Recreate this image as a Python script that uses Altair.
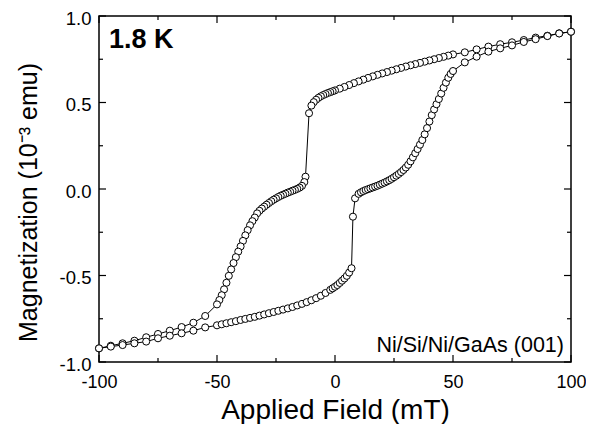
import altair as alt
import pandas as pd

# Descending branch (field swept from +100 mT to -100 mT)
desc_H = [100, 95, 90, 85, 80, 75, 70, 65, 60, 55, 50,
          48, 46, 44, 42, 40, 38, 36, 34, 32, 30, 28, 26, 24, 22, 20,
          18, 16, 14, 12, 10, 8, 6, 4, 2, 0,
          -1, -2, -3, -4, -5, -6, -7, -8, -9, -10, -11,
          -12.5, -13, -14, -15, -16, -17, -18, -19, -20, -21, -22, -23, -24, -25,
          -26, -27, -28, -29, -30, -31, -32, -33, -34, -35, -36, -37, -38, -39, -40,
          -41, -42, -43, -44, -45, -46, -47, -48, -49, -50,
          -55, -60, -65, -70, -75, -80, -85, -90, -95, -100]
desc_M = [0.909, 0.900, 0.886, 0.875, 0.861, 0.848, 0.837, 0.823, 0.807, 0.790, 0.778,
          0.771, 0.764, 0.757, 0.750, 0.743, 0.736, 0.729, 0.722, 0.715, 0.708, 0.700, 0.692, 0.684, 0.676, 0.668,
          0.660, 0.651, 0.642, 0.632, 0.622, 0.612, 0.601, 0.590, 0.580, 0.570,
          0.565, 0.560, 0.555, 0.549, 0.543, 0.536, 0.527, 0.516, 0.502, 0.482, 0.438,
          0.071, 0.040, 0.018, 0.008, 0.001, -0.005, -0.010, -0.016, -0.021, -0.027, -0.033, -0.039, -0.046, -0.054,
          -0.062, -0.071, -0.081, -0.091, -0.102, -0.113, -0.126, -0.141, -0.165, -0.186, -0.210, -0.238, -0.268, -0.300, -0.332,
          -0.362, -0.394, -0.428, -0.465, -0.502, -0.542, -0.580, -0.614, -0.642, -0.667,
          -0.734, -0.773, -0.798, -0.819, -0.838, -0.857, -0.877, -0.892, -0.906, -0.921]

# Ascending branch (field swept from -100 mT to +100 mT)
asc_H = [-100, -95, -90, -85, -80, -75, -70, -65, -60, -55, -50,
         -48, -46, -44, -42, -40, -38, -36, -34, -32, -30, -28, -26, -24, -22, -20,
         -18, -16, -14, -12, -10, -8, -6, -4, -2,
         -1, 0, 1, 2, 3, 4, 5, 6, 7,
         7.6, 8.5, 10, 11, 12, 13, 14, 15, 16, 17, 18, 19, 20, 21, 22, 23, 24, 25,
         26, 27, 28, 29, 30, 31, 32, 33, 34, 35, 36, 37, 38, 39, 40,
         41, 42, 43, 44, 45, 46, 47, 48, 49, 50,
         55, 60, 65, 70, 75, 80, 85, 90, 95, 100]
asc_M = [-0.921, -0.911, -0.902, -0.892, -0.882, -0.863, -0.848, -0.834, -0.819, -0.800, -0.788,
         -0.782, -0.776, -0.770, -0.764, -0.757, -0.751, -0.745, -0.739, -0.732, -0.725, -0.718, -0.711, -0.704, -0.697, -0.690,
         -0.682, -0.673, -0.664, -0.654, -0.643, -0.631, -0.617, -0.601, -0.583,
         -0.574, -0.565, -0.555, -0.543, -0.530, -0.517, -0.502, -0.483, -0.458,
         -0.160, -0.054, -0.028, -0.019, -0.012, -0.006, -0.001, 0.004, 0.009, 0.014, 0.019, 0.025, 0.031, 0.037, 0.044, 0.051, 0.059, 0.068,
         0.077, 0.087, 0.098, 0.110, 0.124, 0.140, 0.160, 0.183, 0.207, 0.231, 0.256, 0.283, 0.316, 0.352, 0.390,
         0.427, 0.460, 0.490, 0.520, 0.552, 0.585, 0.615, 0.643, 0.665, 0.682,
         0.732, 0.765, 0.794, 0.813, 0.830, 0.850, 0.866, 0.884, 0.899, 0.909]

x_major = [-100, -50, 0, 50, 100]
x_minor = [-75, -25, 25, 75]
y_major = [-1.0, -0.5, 0.0, 0.5, 1.0]
y_minor = [-0.75, -0.25, 0.25, 0.75]

temp_label = ["1.8 K"]
sample_label = ["Ni/Si/Ni/GaAs (001)"]

H = desc_H + asc_H
M = desc_M + asc_M
df = pd.DataFrame({"H": H, "M": M, "i": list(range(len(H)))})

W, HT = 472, 346
FONT = "Liberation Sans"

xs = alt.Scale(domain=[-100, 100], nice=False, zero=False)
ys = alt.Scale(domain=[-1, 1], nice=False, zero=False)

x_axis = alt.Axis(
    values=x_major, ticks=False, tickSize=0, domain=False, grid=False,
    labelPadding=25.5, labelBaseline="alphabetic", labelFontSize=18, labelFont=FONT,
    labelColor="black", labelFlush=False, labelOverlap=False,
    labelExpr="datum.value < 0 ? '-' + format(-datum.value, '.0f') : format(datum.value, '.0f')",
    title="Applied Field (mT)", titleFontSize=28, titleFont=FONT, titleFontWeight="normal",
    titleColor="black", titleY=56, titleBaseline="alphabetic", titleX=236, titleAlign="center",
)
y_axis = alt.Axis(
    values=y_major, ticks=False, tickSize=0, domain=False, grid=False,
    labelPadding=8, labelFontSize=18.5, labelFont=FONT, labelColor="black",
    labelFlush=False, labelOverlap=False, labelOffset=2,
    labelExpr="datum.value < 0 ? '-' + format(-datum.value, '.1f') : format(datum.value, '.1f')",
    title="Magnetization (10⁻³ emu)", titleFontSize=25, titleFont=FONT, titleFontWeight="normal",
    titleColor="black", titleX=-63, titleY=186, titleAngle=270, titleBaseline="alphabetic",
    titleAlign="center",
)

X = alt.X("H:Q", scale=xs, axis=x_axis)
Y = alt.Y("M:Q", scale=ys, axis=y_axis)

line = alt.Chart(df).mark_line(color="black", strokeWidth=1).encode(x=X, y=Y, order="i:Q")
pts = alt.Chart(df).mark_circle(fill="white", stroke="black", strokeWidth=1, size=50, opacity=1).encode(x=X, y=Y)

def xticks(vals, length):
    d = pd.DataFrame({"H": vals})
    bot = alt.Chart(d).mark_rule(color="black", strokeWidth=1.2).encode(
        x=X, y=alt.value(HT), y2=alt.value(HT - length))
    top = alt.Chart(d).mark_rule(color="black", strokeWidth=1.2).encode(
        x=X, y=alt.value(0), y2=alt.value(length))
    return [bot, top]

def yticks(vals, length):
    d = pd.DataFrame({"M": vals})
    left = alt.Chart(d).mark_rule(color="black", strokeWidth=1.2).encode(
        y=Y, x=alt.value(0), x2=alt.value(length))
    right = alt.Chart(d).mark_rule(color="black", strokeWidth=1.2).encode(
        y=Y, x=alt.value(W), x2=alt.value(W - length))
    return [left, right]

t1 = alt.Chart(pd.DataFrame({"t": temp_label})).mark_text(
    font=FONT, fontSize=27, fontWeight="bold", align="left", baseline="alphabetic", color="black"
).encode(text="t:N", x=alt.value(10), y=alt.value(32))

t2 = alt.Chart(pd.DataFrame({"t": sample_label})).mark_text(
    font=FONT, fontSize=21.5, align="right", baseline="alphabetic", color="black"
).encode(text="t:N", x=alt.value(W - 7), y=alt.value(HT - 10.5))

layers = xticks(x_major, 7) + xticks(x_minor, 4) + yticks(y_major, 7) + yticks(y_minor, 4) + [line, pts, t1, t2]

chart = alt.layer(*layers).properties(
    width=W, height=HT,
    autosize=alt.AutoSizeParams(type="none"),
    padding={"left": 91, "top": 8, "right": 15, "bottom": 62},
    background="white",
).configure_view(stroke="black", strokeWidth=1.5)

chart.save("out.html", embed_options={"renderer": "svg", "actions": False})
